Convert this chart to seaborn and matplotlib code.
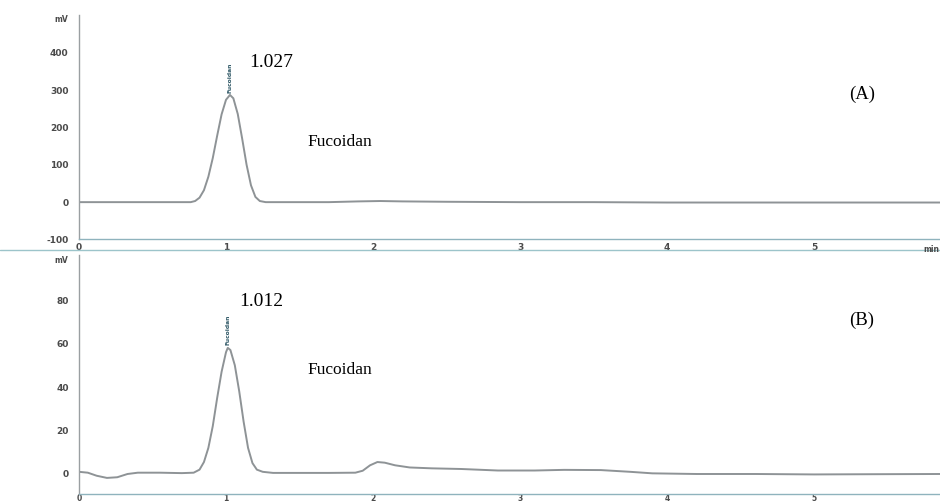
import numpy as np
import pandas as pd
import matplotlib
matplotlib.use("Agg")
import matplotlib.pyplot as plt
import matplotlib.transforms as mtransforms
from matplotlib.lines import Line2D
from matplotlib.ticker import MultipleLocator
import seaborn as sns

# ---------------- data ----------------
time_a = [0.0, 0.5, 0.76, 0.79, 0.82, 0.85, 0.88, 0.91, 0.94, 0.97, 1.00, 1.027,
          1.05, 1.08, 1.11, 1.14, 1.17, 1.20, 1.23, 1.27, 1.35, 1.7, 1.9, 2.05,
          2.2, 2.5, 3.0, 3.5, 4.0, 4.5, 5.0, 5.5, 5.86]
mv_a = [0, 0, 0, 3, 12, 32, 68, 118, 178, 235, 274, 287,
        278, 236, 170, 100, 45, 14, 3, 0, 0, 0, 2, 3,
        2, 1, 0, 0, -1, -1, -1, -1, -1]

time_b = [0.0, 0.06, 0.12, 0.19, 0.26, 0.33, 0.40, 0.55, 0.70, 0.78, 0.82, 0.85,
          0.88, 0.91, 0.94, 0.97, 1.00, 1.012, 1.03, 1.06, 1.09, 1.12, 1.15, 1.18,
          1.21, 1.25, 1.32, 1.50, 1.70, 1.88, 1.93, 1.98, 2.03, 2.08, 2.15, 2.25,
          2.40, 2.60, 2.85, 3.10, 3.30, 3.55, 3.75, 3.90, 4.20, 4.60, 5.00, 5.40, 5.86]
mv_b = [1.0, 0.6, -0.8, -1.8, -1.5, 0.0, 0.6, 0.6, 0.4, 0.6, 2.0, 5.5,
        12, 22, 35, 47, 56, 58, 57, 50, 38, 24, 12, 5,
        2, 1.0, 0.5, 0.5, 0.5, 0.6, 1.5, 4.0, 5.5, 5.2, 4.0, 3.0,
        2.6, 2.3, 1.6, 1.6, 1.9, 1.8, 1.0, 0.3, 0.0, 0.0, -0.2, -0.1, 0.0]

x_ticks = [0, 1, 2, 3, 4, 5]
y_ticks_a = [-100, 0, 100, 200, 300, 400]
y_ticks_b = [0, 20, 40, 60, 80]
peak_name = "Fucoidan"
peak_rt_a, peak_rt_b = "1.027", "1.012"
panel_a, panel_b = "(A)", "(B)"

df_a = pd.DataFrame({"time": time_a, "mv": mv_a})
df_b = pd.DataFrame({"time": time_b, "mv": mv_b})

# ---------------- style ----------------
sns.set_style("white")
plt.rcParams["font.family"] = ["DejaVu Sans"]
plt.rcParams["axes.unicode_minus"] = False

W, H = 940, 503
fig = plt.figure(figsize=(W / 100, H / 100), dpi=100)
fig.patch.set_facecolor("white")

line_col = "#8e9396"
spine_col = "#9a9fa2"
xaxis_col = "#8fb3bd"
tick_lab_col = "#4a4a4a"
serif = ["Liberation Serif", "DejaVu Serif"]

ax1 = fig.add_axes([79 / W, 1 - 239.5 / H, 1 - 79 / W, 224.5 / H])
ax2 = fig.add_axes([79 / W, 1 - 494 / H, 1 - 79 / W, 239 / H])

sns.lineplot(data=df_a, x="time", y="mv", ax=ax1, color=line_col, lw=1.4,
             estimator=None, sort=False)
sns.lineplot(data=df_b, x="time", y="mv", ax=ax2, color=line_col, lw=1.4,
             estimator=None, sort=False)

xmax = (W - 79) / 147.0
for ax in (ax1, ax2):
    ax.set_xlim(0, xmax)
    ax.set_xlabel("")
    ax.set_ylabel("")
    ax.set_facecolor("white")
    for s in ("top", "right"):
        ax.spines[s].set_visible(False)
    ax.spines["left"].set_color(spine_col)
    ax.spines["left"].set_linewidth(1.0)
    ax.spines["bottom"].set_color(xaxis_col)
    ax.spines["bottom"].set_linewidth(1.0)
    ax.set_xticks(x_ticks)
    ax.xaxis.set_minor_locator(MultipleLocator(0.2))
    ax.tick_params(axis="x", which="major", direction="in", length=4, width=0.8,
                   color=spine_col, labelsize=6.5, labelcolor=tick_lab_col, pad=2.5)
    ax.tick_params(axis="x", which="minor", direction="in", length=2.5, width=0.7,
                   color=spine_col)
    ax.tick_params(axis="y", which="major", direction="out", length=3, width=0.8,
                   color=spine_col, labelsize=6.5, labelcolor=tick_lab_col, pad=4.5)
    ax.tick_params(axis="y", which="minor", direction="inout", length=3, width=0.7,
                   color=spine_col)

ax1.set_ylim(-100, 501)
ax1.set_yticks(y_ticks_a)
ax1.yaxis.set_minor_locator(MultipleLocator(20))
ax2.set_ylim(-9.2, 100.7)
ax2.set_yticks(y_ticks_b)
ax2.yaxis.set_minor_locator(MultipleLocator(5))
ax2.tick_params(axis="x", which="major", pad=0.3, labelsize=5.5)
for lab in ax1.get_xticklabels() + ax1.get_yticklabels() + ax2.get_xticklabels() + ax2.get_yticklabels():
    lab.set_fontweight("bold")

# mV unit labels at top of y axes
for ax, yv in ((ax1, 488), (ax2, 98.4)):
    tr = mtransforms.blended_transform_factory(ax.transAxes, ax.transData)
    ax.text(-0.013, yv, "mV", transform=tr, ha="right", va="center",
            fontsize=5.5, fontweight="bold", color=tick_lab_col)

# "min" label at end of top x axis
fig.text(939 / W, 1 - 249 / H, "min", ha="right", va="center", fontsize=5.5,
         fontweight="bold", color=tick_lab_col)

# peak name labels (rotated)
ax1.text(1.027, 293, peak_name, rotation=90, ha="center", va="bottom",
         fontsize=4.3, fontweight="bold", color="#2f5866")
ax2.text(1.012, 59.5, peak_name, rotation=90, ha="center", va="bottom",
         fontsize=4.3, fontweight="bold", color="#2f5866")

# annotations
fig.text(271 / W, 1 - 63 / H, peak_rt_a, ha="center", va="center",
         fontsize=14, family=serif, color="black")
fig.text(340 / W, 1 - 142 / H, peak_name, ha="center", va="center",
         fontsize=12.5, family=serif, color="black")
fig.text(862 / W, 1 - 94 / H, panel_a, ha="center", va="center",
         fontsize=13.5, family=serif, color="black")

fig.text(261 / W, 1 - 302 / H, peak_rt_b, ha="center", va="center",
         fontsize=14, family=serif, color="black")
fig.text(340 / W, 1 - 370 / H, peak_name, ha="center", va="center",
         fontsize=12.5, family=serif, color="black")
fig.text(862 / W, 1 - 320 / H, panel_b, ha="center", va="center",
         fontsize=13.5, family=serif, color="black")

# separator line between the two chromatograms
fig.add_artist(Line2D([0, 1], [1 - 250 / H, 1 - 250 / H], transform=fig.transFigure,
                      color="#9cc4ca", lw=1.0))

fig.savefig("out.png", dpi=100, facecolor="white")
